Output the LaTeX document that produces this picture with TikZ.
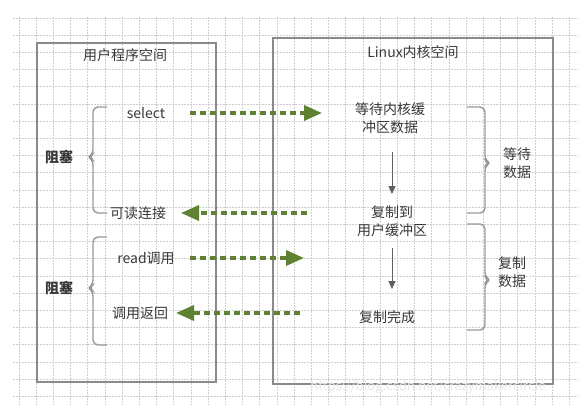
\documentclass[tikz,border=0pt]{standalone}
\usepackage{fontspec}
\setmainfont{Noto Sans CJK SC}
\usetikzlibrary{arrows.meta}
\definecolor{txt}{HTML}{383838}
\definecolor{boxc}{HTML}{8A8A8A}
\definecolor{gridc}{HTML}{CFCFCF}
\definecolor{arrg}{HTML}{5E8132}
\definecolor{brc}{HTML}{9A9A9A}
\tikzset{
  lbl/.style={text=txt, font=\fontsize{14}{18}\selectfont, inner sep=0pt, align=center},
  blk/.style={lbl, font=\fontsize{14}{18}\selectfont\bfseries},
  spacebox/.style={draw=boxc, line width=1.8pt},
  flow/.style={draw=arrg, line width=3.4pt, dash pattern=on 6pt off 4pt, -{Triangle[length=18pt,width=15pt]}},
  down/.style={draw=txt!80, line width=1pt, -{Triangle[length=8pt,width=7pt]}},
  brace/.style={draw=brc, line width=1.4pt, rounded corners=5pt},
  gridline/.style={draw=gridc, line width=0.7pt, dash pattern=on 2pt off 1pt}
}
\begin{document}
\begin{tikzpicture}[x=1pt,y=-1pt]
\useasboundingbox[fill=white] (0,0) rectangle (585,418);
% grid
\foreach \k in {0,...,32} { \draw[gridline] ({19+17.2*\k},17) -- ({19+17.2*\k},405); }
\foreach \k in {0,...,22} { \draw[gridline] (13,{18+17.2*\k}) -- (578,{18+17.2*\k}); }
% spaces
\node[spacebox, minimum width=179pt, minimum height=339pt, inner sep=0pt] (user) at (126.5,212.5) {};
\node[spacebox, minimum width=280pt, minimum height=346pt, inner sep=0pt] (kern) at (413,211) {};
\node[lbl] (ut) at (125,55) {用户程序空间};
\node[lbl] (kt) at (413,52) {Linux内核空间};
% user side labels
\node[lbl] (sel) at (146,113) {select};
\node[lbl] (rd) at (138,213) {可读连接};
\node[lbl] (rcall) at (146,258) {read调用};
\node[lbl] (ret) at (140,313) {调用返回};
\node[blk] (b1) at (59,157) {阻塞};
\node[blk] (b2) at (59,288) {阻塞};
% kernel side labels
\node[lbl] (wait) at (390,118) {等待内核缓\\冲区数据};
\node[lbl] (copy) at (392,221) {复制到\\用户缓冲区};
\node[lbl] (done) at (387,317) {复制完成};
\node[lbl] (wd) at (517,163) {等待\\数据};
\node[lbl] (cd) at (512,272) {复制\\数据};
% braces
\draw[brace] (107,107) -| (93,154) -- (88.5,157) -- (93,160) |- (107,213);
\draw[brace] (107,237) -| (93,285) -- (88.5,288) -- (93,291) |- (107,345);
\draw[brace] (467,107) -| (485,160) -- (489.5,163) -- (485,166) |- (467,213);
\draw[brace] (467,224) -| (485,277) -- (489.5,280) -- (485,283) |- (467,330);
% flow arrows
\coordinate (a1s) at (190,113); \coordinate (a1e) at (322,113);
\coordinate (a2s) at (307,213); \coordinate (a2e) at (181,213);
\coordinate (a3s) at (190,258); \coordinate (a3e) at (304,258);
\coordinate (a4s) at (300,313); \coordinate (a4e) at (176,313);
\draw[flow] (a1s) -- (a1e);
\draw[flow] (a2s) -- (a2e);
\draw[flow] (a3s) -- (a3e);
\draw[flow] (a4s) -- (a4e);
% kernel internal arrows
\coordinate (d1s) at (392,152); \coordinate (d1e) at (392,194);
\coordinate (d2s) at (392,248); \coordinate (d2e) at (392,289);
\draw[down] (d1s) -- (d1e);
\draw[down] (d2s) -- (d2e);
% watermark
\node[text=gray!18, font=\fontsize{13}{16}\selectfont, inner sep=0pt] (wm) at (428,387) {https://blog.csdn.net/crazymakercircle};
\end{tikzpicture}
\end{document}
